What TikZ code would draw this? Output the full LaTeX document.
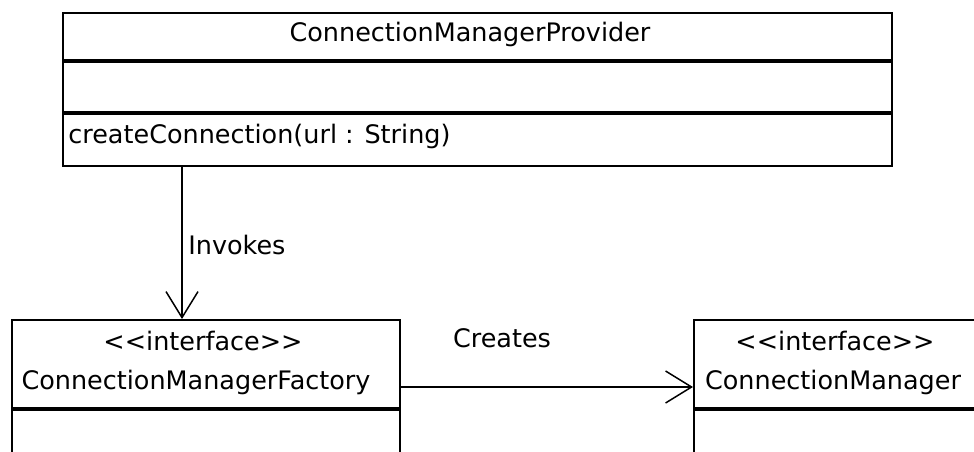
\documentclass[tikz,border=0pt]{standalone}
\usepackage{fontspec}
\setmainfont{DejaVu Sans}
\usepackage{tikz}
\usetikzlibrary{
    positioning,   % Required for relative placement
    arrows.meta    % Required for the open barb heads
}
% stereotype brackets, kept apart so they are not merged into guillemets
\newcommand{\stereo}[1]{<\kern0pt<#1>\kern0pt>}

\begin{document}
\begin{tikzpicture}[
        >={Straight Barb[length=0.52cm, width=0.64cm]},
        % Styles
        classbox/.style={draw=black, line width=1.2pt, fill=white, anchor=north west, inner sep=0pt},
        sepline/.style={black, line width=2.7pt},
        assoc/.style={->, black, line width=0.85pt},
        umltext/.style={font=\fontsize{14.5}{17}\selectfont, inner sep=0pt}
    ]

    % --- Page frame ---
    \useasboundingbox (0,0) rectangle (19.48,9.02);
    \clip (0,0) rectangle (19.48,9.02);

    % --- 1. Class boxes ---
    \node[classbox, minimum width=16.58cm, minimum height=3.06cm] (provider) at (1.24,8.78) {};
    \node[classbox, minimum width=7.76cm, minimum height=3.6cm] (factory) at (0.22,2.64) {};
    \node[classbox, minimum width=7.0cm, minimum height=3.6cm] (manager) at (13.86,2.64) {};

    % Compartment lines
    \draw[sepline] (provider.west |- 0,7.80) -- (provider.east |- 0,7.80);
    \draw[sepline] (provider.west |- 0,6.76) -- (provider.east |- 0,6.76);
    \draw[sepline] (factory.west |- 0,0.84) -- (factory.east |- 0,0.84);
    \draw[sepline] (manager.west |- 0,0.84) -- (manager.east |- 0,0.84);

    % --- 2. Class texts ---
    \node[umltext] (providername) at (9.40,8.34) {ConnectionManagerProvider};
    \node[umltext, anchor=west] (providerop) at (1.36,6.30) {createConnection(url : String)};

    \node[umltext] (factorystereo) at (4.06,2.20) {\stereo{interface}};
    \node[umltext] (factoryname) at (3.92,1.38) {ConnectionManagerFactory};

    \node[umltext] (managerstereo) at (16.70,2.20) {\stereo{interface}};
    \node[umltext] (managername) at (16.66,1.38) {ConnectionManager};

    % --- 3. Associations ---
    \coordinate (invx) at (3.64,0);
    \coordinate (crey) at (0,1.28);
    \draw[assoc] (provider.south -| invx) -- (factory.north -| invx);
    \draw[assoc] (factory.east |- crey) -- (manager.west |- crey);

    \node[umltext, anchor=west] (invokes) at (3.76,4.12) {Invokes};
    \node[umltext] (creates) at (10.04,2.26) {Creates};

\end{tikzpicture}
\end{document}
